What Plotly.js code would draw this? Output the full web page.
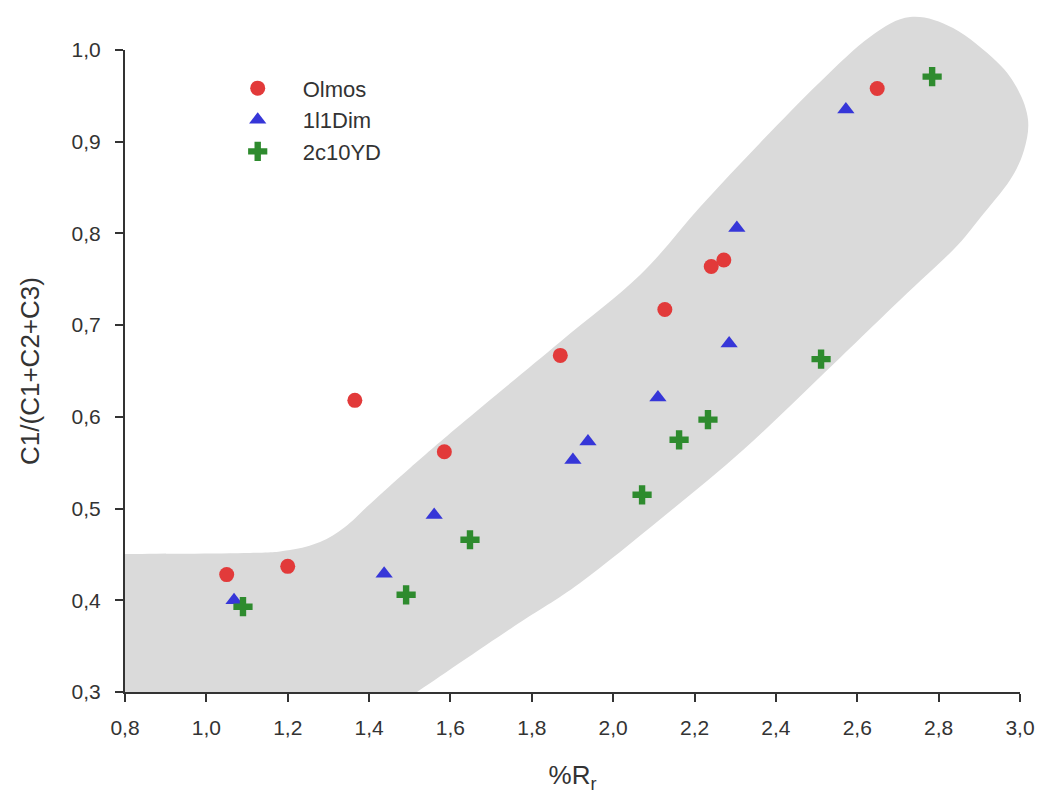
<!DOCTYPE html>
<html>
<head>
<meta charset="utf-8">
<script src="https://cdn.plot.ly/plotly-3.0.1.min.js"></script>
<style>html,body{margin:0;padding:0;background:#fff;}#chart{width:1040px;height:801px;}</style>
</head>
<body>
<div id="chart"></div>
<script>
// Series data
const olmosX = [1.05, 1.20, 1.365, 1.585, 1.87, 2.127, 2.241, 2.272, 2.649];
const olmosY = [0.428, 0.437, 0.618, 0.562, 0.667, 0.717, 0.764, 0.771, 0.958];

const dimX = [1.068, 1.437, 1.56, 1.901, 1.938, 2.110, 2.285, 2.304, 2.572];
const dimY = [0.400, 0.429, 0.493, 0.553, 0.573, 0.621, 0.680, 0.806, 0.935];

const ydX = [1.09, 1.491, 1.648, 2.071, 2.162, 2.233, 2.511, 2.784];
const ydY = [0.393, 0.406, 0.466, 0.515, 0.575, 0.597, 0.663, 0.971];

const seriesNames = ["Olmos", "1l1Dim", "2c10YD"];

// Tick values
const xTicks = [0.8, 1.0, 1.2, 1.4, 1.6, 1.8, 2.0, 2.2, 2.4, 2.6, 2.8, 3.0];
const yTicks = [0.3, 0.4, 0.5, 0.6, 0.7, 0.8, 0.9, 1.0];

// Gray trend band outline (data units), clockwise from bottom-left
const bandX = [0.8, 0.8, 1.1073, 1.2056, 1.2794, 1.3408, 1.4023, 1.5006, 1.6235, 1.8693, 2.066, 2.2135, 2.361, 2.5085, 2.631, 2.730, 2.8354, 2.9436, 2.9952, 3.0198, 3.01, 2.9755, 2.9018, 2.8354, 2.7051, 2.5085, 2.3192, 2.1225, 1.9185, 1.7538, 1.5178];
const bandY = [0.3, 0.4505, 0.4516, 0.4549, 0.4636, 0.4799, 0.505, 0.5443, 0.5912, 0.6817, 0.7547, 0.8289, 0.8987, 0.9652, 1.0143, 1.036, 1.024, 0.987, 0.9565, 0.9238, 0.891, 0.8583, 0.8169, 0.782, 0.7275, 0.6435, 0.5639, 0.4908, 0.4189, 0.3709, 0.3];

const xRange = [0.8, 3.0];
const yRange = [0.3, 1.0];

// band outline in paper coords (not clipped by the plot area), smoothed with Catmull-Rom
function toPaper(x, y) {
  return [(x - xRange[0]) / (xRange[1] - xRange[0]), (y - yRange[0]) / (yRange[1] - yRange[0])];
}
function bandPath() {
  const pts = bandX.map((x, i) => toPaper(x, bandY[i]));
  const n = pts.length;
  let d = 'M' + pts[0][0] + ',' + pts[0][1] + ' L' + pts[1][0] + ',' + pts[1][1];
  const t = 1 / 6;
  for (let i = 1; i < n - 1; i++) {
    const p1 = pts[i], p2 = pts[i + 1];
    const p0 = (i === 1) ? pts[i] : pts[i - 1];
    const p3 = (i + 2 < n) ? pts[i + 2] : pts[i + 1];
    const c1 = [p1[0] + (p2[0] - p0[0]) * t, p1[1] + (p2[1] - p0[1]) * t];
    const c2 = [p2[0] - (p3[0] - p1[0]) * t, p2[1] - (p3[1] - p1[1]) * t];
    d += ' C' + c1[0] + ',' + c1[1] + ' ' + c2[0] + ',' + c2[1] + ' ' + p2[0] + ',' + p2[1];
  }
  d += ' Z';
  return d;
}

const traces = [
  {x: olmosX, y: olmosY, name: seriesNames[0], type: 'scatter', mode: 'markers',
   marker: {symbol: 'circle', size: 15, color: '#e23a3a'}},
  {x: dimX, y: dimY, name: seriesNames[1], type: 'scatter', mode: 'markers',
   marker: {symbol: 'triangle-up', size: 15, color: '#3636d8'}},
  {x: ydX, y: ydY, name: seriesNames[2], type: 'scatter', mode: 'markers',
   marker: {symbol: 'cross', size: 16, color: '#2e8b2e'}}
];

const fontFam = 'Arial, "Liberation Sans", sans-serif';

const layout = {
  width: 1040, height: 801,
  margin: {l: 125, r: 20, t: 50, b: 109},
  paper_bgcolor: '#ffffff', plot_bgcolor: 'rgba(0,0,0,0)',
  separators: ',.',
  showlegend: true,
  legend: {x: 0.098, y: 0.973, xanchor: 'left', yanchor: 'top',
           bgcolor: 'rgba(0,0,0,0)', font: {family: fontFam, size: 22, color: '#333'},
           itemwidth: 80, tracegroupgap: 0},
  xaxis: {range: xRange, tickvals: xTicks, tickformat: '.1f', showgrid: false, zeroline: false,
          showline: true, linecolor: '#333', linewidth: 2, ticks: 'outside', ticklen: 8, tickwidth: 2, tickcolor: '#333',
          ticklabelstandoff: 8,
          tickfont: {family: fontFam, size: 21, color: '#333'},
          title: {text: '%R<sub>r</sub>', font: {family: fontFam, size: 26, color: '#333'}, standoff: 28}},
  yaxis: {range: yRange, tickvals: yTicks, tickformat: '.1f', showgrid: false, zeroline: false,
          showline: true, linecolor: '#333', linewidth: 2, ticks: 'outside', ticklen: 8, tickwidth: 2, tickcolor: '#333',
          ticklabelstandoff: 10,
          tickfont: {family: fontFam, size: 21, color: '#333'},
          title: {text: 'C1/(C1+C2+C3)', font: {family: fontFam, size: 26, color: '#333'}, standoff: 24}},
  shapes: [{type: 'path', xref: 'paper', yref: 'paper', path: bandPath(),
            fillcolor: '#dadada', line: {width: 0}, layer: 'below'}]
};

Plotly.newPlot('chart', traces, layout, {displayModeBar: false, staticPlot: true});
</script>
</body>
</html>
